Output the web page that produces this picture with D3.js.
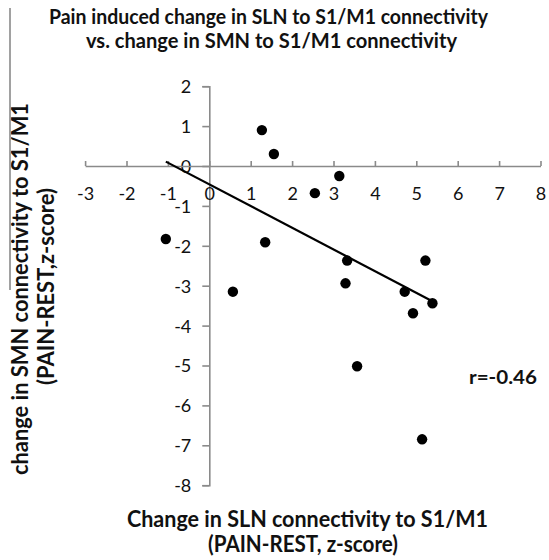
<!DOCTYPE html>
<html><head><meta charset="utf-8">
<script src="https://cdn.jsdelivr.net/npm/d3@7"></script>
<style>
body{margin:0;background:#fff;}
svg{display:block;}
text{font-family:Lato,"Open Sans",sans-serif;}
</style></head>
<body>
<script>
const xVals = [1.27, 1.56, 3.14, 2.55, -1.05, 1.35, 3.33, 5.22, 0.57, 3.29, 4.72, 5.39, 4.92, 3.57, 5.14];
const yVals = [0.90, 0.30, -0.25, -0.68, -1.83, -1.91, -2.37, -2.37, -3.15, -2.94, -3.15, -3.44, -3.69, -5.02, -6.85];
const trendX = [-1.05, 5.48];
const trendY = [0.11, -3.44];
const xTicks = [-3, -2, -1, 0, 1, 2, 3, 4, 5, 6, 7, 8];
const yTicks = [2, 1, 0, -1, -2, -3, -4, -5, -6, -7, -8];
const titleLines = ["Pain induced change in SLN to S1/M1 connectivity", "vs. change in SMN to S1/M1 connectivity"];
const xTitleLines = ["Change in SLN connectivity to S1/M1", "(PAIN-REST, z-score)"];
const yTitleLines = ["change in SMN connectivity to S1/M1", "(PAIN-REST,z-score)"];
const rLabel = "r=-0.46";

const W = 549, H = 560;
const svg = d3.select("body").append("svg").attr("width", W).attr("height", H);

const x = d3.scaleLinear().domain([-3, 8]).range([85.1, 540.5]);
const y = d3.scaleLinear().domain([-8, 2]).range([485.2, 86.2]);
const axisColor = "#8a8a8a";
const fmt = d => String(d);

// y axis
const gy = svg.append("g").attr("transform", `translate(${x(0)},0)`)
  .call(d3.axisLeft(y).tickValues(yTicks).tickSizeInner(7).tickSizeOuter(7).tickPadding(11).tickFormat(fmt));
// x axis
const gx = svg.append("g").attr("transform", `translate(0,${y(0)})`)
  .call(d3.axisBottom(x).tickValues(xTicks).tickSizeInner(-5).tickSizeOuter(0).tickPadding(34).tickFormat(fmt));

[gx, gy].forEach(g => {
  g.select(".domain").attr("stroke", axisColor).attr("stroke-width", 1.6);
  g.selectAll(".tick line").attr("stroke", axisColor).attr("stroke-width", 1.6);
  g.selectAll(".tick text").attr("fill", "#111").attr("font-size", 18).attr("font-family", "Lato, sans-serif");
});
gx.selectAll(".tick text").attr("dy", "0");
gy.selectAll(".tick text").attr("dy", "0.36em");

// trend line
svg.append("line")
  .attr("x1", x(trendX[0])).attr("y1", y(trendY[0]))
  .attr("x2", x(trendX[1])).attr("y2", y(trendY[1]))
  .attr("stroke", "#000").attr("stroke-width", 2.2);

// points
svg.append("g").selectAll("circle").data(xVals.map((v, i) => [v, yVals[i]]))
  .join("circle")
  .attr("cx", d => x(d[0])).attr("cy", d => y(d[1])).attr("r", 5.2).attr("fill", "#000");

// title
const titlePos = [[268.5, 24, 439], [271.5, 48, 371]];
svg.append("g").selectAll("text").data(titleLines).join("text")
  .attr("x", (d, i) => titlePos[i][0]).attr("y", (d, i) => titlePos[i][1])
  .attr("textLength", (d, i) => titlePos[i][2]).attr("lengthAdjust", "spacingAndGlyphs")
  .attr("text-anchor", "middle").attr("font-weight", "bold").attr("font-size", 20.5)
  .attr("fill", "#111").text(d => d);

// x title
const xtPos = [[307.5, 527, 361], [303, 552, 190]];
svg.append("g").selectAll("text").data(xTitleLines).join("text")
  .attr("x", (d, i) => xtPos[i][0]).attr("y", (d, i) => xtPos[i][1])
  .attr("textLength", (d, i) => xtPos[i][2]).attr("lengthAdjust", "spacingAndGlyphs")
  .attr("text-anchor", "middle").attr("font-weight", "bold").attr("font-size", 22)
  .attr("fill", "#111").text(d => d);

// y title
const ytPos = [[28, 289, 372], [54, 286.5, 197]];
svg.append("g").selectAll("text").data(yTitleLines).join("text")
  .attr("transform", (d, i) => `translate(${ytPos[i][0]},${ytPos[i][1]}) rotate(-90)`)
  .attr("textLength", (d, i) => ytPos[i][2]).attr("lengthAdjust", "spacingAndGlyphs")
  .attr("text-anchor", "middle").attr("font-weight", "bold").attr("font-size", 22)
  .attr("fill", "#111").text(d => d);

// decorative gray line at left
svg.append("line").attr("x1", 10).attr("x2", 10).attr("y1", 8).attr("y2", 290)
  .attr("stroke", "#8a8a8a").attr("stroke-width", 1.6);

// r label
svg.append("text").attr("x", 469).attr("y", 384)
  .attr("textLength", 68).attr("lengthAdjust", "spacingAndGlyphs")
  .attr("font-weight", "bold").attr("font-size", 19)
  .attr("fill", "#111").text(rLabel);
</script>
</body></html>
